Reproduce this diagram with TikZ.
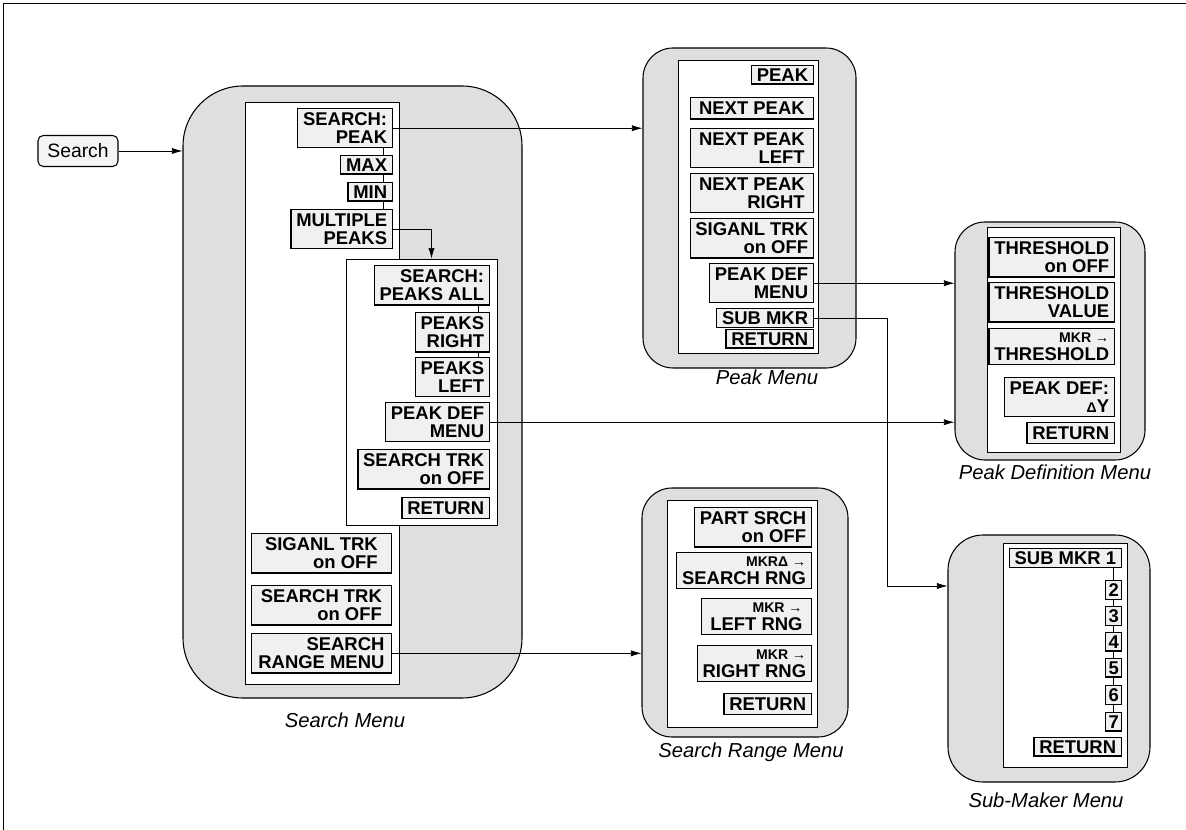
\documentclass[tikz,border=0pt]{standalone}
\usepackage{fontspec}
\setmainfont{Liberation Sans}
\usetikzlibrary{arrows.meta}
\usetikzlibrary{positioning}
\usetikzlibrary{fit}

\newcommand{\btnfont}{\fontsize{10.5}{10}\selectfont\bfseries}
\newcommand{\mkrline}[1]{{\fontsize{8}{8}\selectfont #1}}

\tikzset{
  menubg/.style={draw, line width=0.6pt, fill=gray!25, inner sep=0pt, rounded corners=#1},
  menubg/.default=0.6cm,
  menupanel/.style={draw, line width=0.5pt, fill=white},
  btn/.style={draw, line width=0.7pt, fill=gray!12, font=\btnfont, align=right,
    anchor=north east, inner xsep=3pt, inner ysep=2.5pt},
  btnone/.style={btn, inner ysep=1.6pt},
  link/.style={line width=0.4pt},
  menucap/.style={font=\fontsize{11.5}{12}\selectfont\itshape},
}

\begin{document}
\begin{tikzpicture}[x=0.02cm, y=-0.02cm, >={Latex[length=6pt,width=3.5pt]}]
	\useasboundingbox (0,0) rectangle (1186,830);
	\draw[line width=0.5pt] (3,830) -- (3,3) -- (1186,3);

	% menu backgrounds
	\node[menubg=1.2cm, fit={(183,86) (522,698)}] (searchmenu) {};
	\node[menubg, fit={(643,48) (856,368)}] (peakmenu) {};
	\node[menubg, fit={(955,222) (1145,460)}] (peakdefmenu) {};
	\node[menubg, fit={(642,488) (848,737)}] (rangemenu) {};
	\node[menubg=0.7cm, fit={(948,535) (1150,782)}] (submenu) {};

	% white panels
	\draw[menupanel] (245,102) rectangle (399,684);
	\node[menupanel, inner sep=0pt, fit={(346,259) (497,525)}] (peakspanel) {};
	\draw[menupanel] (678,60) rectangle (818,353);
	\draw[menupanel] (987,227) rectangle (1120,452);
	\draw[menupanel] (667,500) rectangle (817,727);
	\draw[menupanel] (1003,543) rectangle (1127,767);

	\node[draw, rounded corners=3pt, fill=gray!8, line width=0.6pt, font=\fontsize{11}{12}\selectfont,
		minimum width=1.6cm, minimum height=0.62cm] (searchkey) at (78,151) {Search};

	% Search Menu
	\node[btn] (sp) at (393,108) {SEARCH:\\PEAK};
	\node[btnone] (mx) at (393,155) {MAX};
	\node[btnone] (mn) at (393,182) {MIN};
	\node[btn] (mp) at (393,209) {MULTIPLE\\PEAKS};
	\node[btn] (spa) at (490,265) {SEARCH:\\PEAKS ALL};
	\node[btn] (pr) at (490,312) {PEAKS\\RIGHT};
	\node[btn] (pl) at (490,357) {PEAKS\\LEFT};
	\node[btn] (spdef) at (490,402) {PEAK DEF\\MENU};
	\node[btn] (strk) at (490,449) {SEARCH TRK\\on OFF};
	\node[btn, inner ysep=2.2pt] (sret) at (490,497) {RETURN};
	\node[btn, minimum width=2.8cm] (sig) at (392,533) {SIGANL TRK\\on OFF};
	\node[btn, minimum width=2.8cm] (strk2) at (392,585) {SEARCH TRK\\on OFF};
	\node[btn, minimum width=2.8cm] (srm) at (392,633) {SEARCH\\RANGE MENU};

	% Peak Menu
	\node[btnone] (pk) at (814,65) {PEAK};
	\node[btn, minimum width=2.46cm] (np) at (814,97) {NEXT PEAK};
	\node[btn, minimum width=2.46cm] (npl) at (814,128) {NEXT PEAK\\LEFT};
	\node[btn, minimum width=2.46cm] (npr) at (814,173) {NEXT PEAK\\RIGHT};
	\node[btn, minimum width=2.46cm] (psig) at (814,218) {SIGANL TRK\\on OFF};
	\node[btn] (pdef) at (814,263) {PEAK DEF\\MENU};
	\node[btnone] (submkr) at (814,308) {SUB MKR};
	\node[btnone] (pret) at (814,329) {RETURN};

	% Peak Definition Menu
	\node[btn] (th) at (1115,237) {THRESHOLD\\on OFF};
	\node[btn] (tv) at (1115,282) {THRESHOLD\\VALUE};
	\node[btn] (mt) at (1115,328) {\mkrline{MKR →}\\THRESHOLD};
	\node[btn] (pdy) at (1115,377) {PEAK DEF:\\\mkrline{Δ}Y};
	\node[btn, inner ysep=2.2pt] (dret) at (1115,422) {RETURN};

	% Search Range Menu
	\node[btn] (ps) at (812,507) {PART SRCH\\on OFF};
	\node[btn] (msr) at (812,552) {\mkrline{MKRΔ →}\\SEARCH RNG};
	\node[btn, minimum width=2.2cm] (mlr) at (812,598) {\mkrline{MKR →}\\LEFT RNG};
	\node[btn] (mrr) at (812,645) {\mkrline{MKR →}\\RIGHT RNG};
	\node[btn, inner ysep=2.2pt] (rret) at (812,693) {RETURN};

	% Sub-Maker Menu
	\node[btnone] (sm1) at (1122,548) {SUB MKR 1};
	\foreach \n/\y in {2/580,3/606,4/632,5/658,6/685,7/712}
		\node[btnone, inner xsep=1.5pt] (n\n) at (1122,\y) {\n};
	\node[btnone] (mret) at (1122,737) {RETURN};

	% thin links inside the menus
	\foreach \a/\b in {sp/mx,mx/mn,mn/mp}
		\draw[link] ([xshift=-0.2cm]\a.south east) -- ([xshift=-0.2cm]\b.north east);
	\foreach \a/\b in {spa/pr,pr/pl}
		\draw[link] ([xshift=-0.24cm]\a.south east) -- ([xshift=-0.24cm]\b.north east);
	\foreach \a/\b in {sm1/n2,n2/n3,n3/n4,n4/n5,n5/n6,n6/n7}
		\draw[link] (\a.south -| n2) -- (\b.north -| n2);

	% connectors
	\draw[->] (searchkey.east) -- (searchkey.east -| searchmenu.west);
	\draw[->] (sp.east) -- (sp.east -| peakmenu.west);
	\draw[->] (mp.east) -| ([xshift=0.2cm]peakspanel.north);
	\draw[->] (spdef.east) -- (spdef.east -| peakdefmenu.west);
	\draw[->] (srm.east) -- (srm.east -| rangemenu.west);
	\draw[->] (pdef.east) -- (pdef.east -| peakdefmenu.west);
	\coordinate (subturn) at (887,586);
	\draw[->] (submkr.east) -| (subturn) -- (subturn -| submenu.west);

	% captions
	\node[menucap] (searchcap) at (345,720) {Search Menu};
	\node[menucap] (peakcap) at (767,377) {Peak Menu};
	\node[menucap] (peakdefcap) at (1055,472) {Peak Definition Menu};
	\node[menucap] (rangecap) at (751,752) {Search Range Menu};
	\node[menucap] (subcap) at (1046,800) {Sub-Maker Menu};
\end{tikzpicture}
\end{document}
